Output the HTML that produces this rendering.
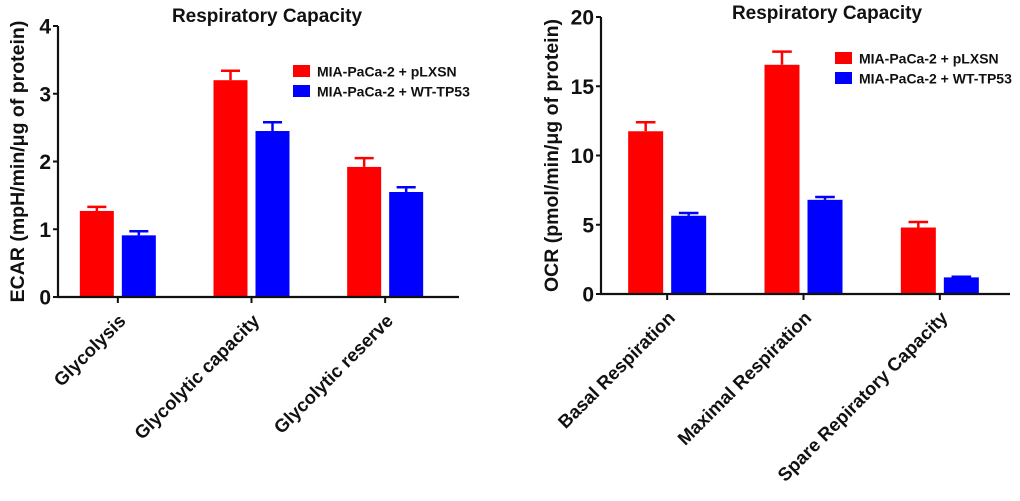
<!DOCTYPE html>
<html><head><meta charset="utf-8"><style>
html,body{margin:0;padding:0;background:#fff;}
svg{display:block;font-family:"Liberation Sans",Arial,sans-serif;}
</style></head><body>
<svg id="c" width="1020" height="501" viewBox="0 0 1020 501"></svg>
<script>
const leftCategories = ["Glycolysis","Glycolytic capacity","Glycolytic reserve"];
const leftRed = [1.27, 3.2, 1.92];
const leftRedErr = [0.06, 0.14, 0.13];
const leftBlue = [0.91, 2.45, 1.55];
const leftBlueErr = [0.06, 0.13, 0.07];
const leftTicks = [0,1,2,3,4];

const rightCategories = ["Basal Respiration","Maximal Respiration","Spare Repiratory Capacity"];
const rightRed = [11.75, 16.55, 4.8];
const rightRedErr = [0.65, 0.95, 0.4];
const rightBlue = [5.65, 6.8, 1.2];
const rightBlueErr = [0.2, 0.2, 0.05];
const rightTicks = [0,5,10,15,20];

const NS = "http://www.w3.org/2000/svg";
const svg = document.getElementById('c');
function mk(tag, attrs, parent, text){
  const e = document.createElementNS(NS, tag);
  for (const k in attrs) e.setAttribute(k, attrs[k]);
  if (text !== undefined) e.textContent = text;
  (parent||svg).appendChild(e);
  return e;
}

function chart(cfg){
  const g = mk('g', {});
  
  
  const ymax = cfg.ticks[cfg.ticks.length-1];
  const y = v => cfg.y0 - (v/ymax)*(cfg.y0 - cfg.yTop);
  const n = cfg.cats.length;
  const step = (cfg.xEnd - cfg.ax) / n;
  const xc = i => cfg.ax + step*(i+0.5) + cfg.shift;
  const t = mk('text', {x: cfg.titleX, y: cfg.titleY, 'font-size': 19, 'font-weight': 'bold', 'text-anchor': 'middle', fill: '#111'}, g, 'Respiratory Capacity');
  
  
  const yt = mk('text', {x: 0, y: 0, 'font-size': 19.5, 'font-weight': 'bold', 'text-anchor': 'middle', fill: '#111',
    transform: `translate(${cfg.ytX},${(cfg.y0+cfg.yTop)/2}) rotate(-90)`}, g, cfg.ytitle);
  
  
  const bw = cfg.bw;
  for (let i=0;i<n;i++){
    const pairs = [[cfg.red[i], cfg.redErr[i], '#ff0000', -1, 'red'], [cfg.blue[i], cfg.blueErr[i], '#0000ff', 1, 'blue']];
    for (const [v, e, col, side, nm] of pairs){
      const x0 = side<0 ? xc(i) - cfg.gap/2 - bw : xc(i) + cfg.gap/2;
      const cx = x0 + bw/2;
      const eb = mk('path', {d: `M${cx},${y(v)} V${y(v+e)} M${cx-bw*0.28},${y(v+e)} H${cx+bw*0.28}`, stroke: col, 'stroke-width': 2.5, fill: 'none'}, g);
      
      
      const b = mk('rect', {x: x0, y: y(v), width: bw, height: y(0)-y(v), fill: col}, g);
      
      
    }
  }
  const ax = mk('path', {d: `M${cfg.ax},${cfg.yTop} V${cfg.y0} H${cfg.xEnd}`, stroke: '#111', 'stroke-width': 2.2, fill: 'none'}, g);
  
  
  for (const tv of cfg.ticks){
    const tk = mk('path', {d: `M${cfg.ax-5},${y(tv)} H${cfg.ax}`, stroke: '#111', 'stroke-width': 2}, g);
    
    
    const tl = mk('text', {x: cfg.ax-7, y: y(tv)+7.5, 'font-size': 21, 'font-weight': 'bold', 'text-anchor': 'end', fill: '#111'}, g, String(tv));
    
    
  }
  for (let i=0;i<n;i++){
    const tk = mk('path', {d: `M${xc(i)},${cfg.y0} V${cfg.y0+6}`, stroke: '#111', 'stroke-width': 2}, g);
    
    
    const tl = mk('text', {x: 0, y: 0, 'font-size': 18.5, 'font-weight': 'bold', 'text-anchor': 'end', fill: '#111',
      transform: `translate(${xc(i)+9},${cfg.y0+25}) rotate(-45)`}, g, cfg.cats[i]);
    
    
  }
  const leg = [['#ff0000','MIA-PaCa-2 + pLXSN'],['#0000ff','MIA-PaCa-2 + WT-TP53']];
  leg.forEach(([col, lab], k) => {
    const sw = mk('rect', {x: cfg.lx, y: cfg.ly + k*20, width: 17, height: 12, fill: col}, g);
    
    
    const lt = mk('text', {x: cfg.lx+24, y: cfg.ly + k*20 + 11.5, 'font-size': 14, 'font-weight': 'bold', fill: '#111'}, g, lab);
    
    
  });
}

chart({name:'ecar-chart', cats:leftCategories, red:leftRed, redErr:leftRedErr, blue:leftBlue, blueErr:leftBlueErr, ticks:leftTicks,
  ax:58, xEnd:459, y0:297, yTop:26, shift:-7, bw:34, gap:8, titleX:267, titleY:22, ytX:24,
  ytitle:'ECAR (mpH/min/μg of protein)', lx:293, ly:65});
chart({name:'ocr-chart', cats:rightCategories, red:rightRed, redErr:rightRedErr, blue:rightBlue, blueErr:rightBlueErr, ticks:rightTicks,
  ax:601, xEnd:1010, y0:294, yTop:17, shift:-2, bw:35, gap:8, titleX:827, titleY:19, ytX:558,
  ytitle:'OCR (pmol/min/μg of protein)', lx:835, ly:52});
</script>
</body></html>
